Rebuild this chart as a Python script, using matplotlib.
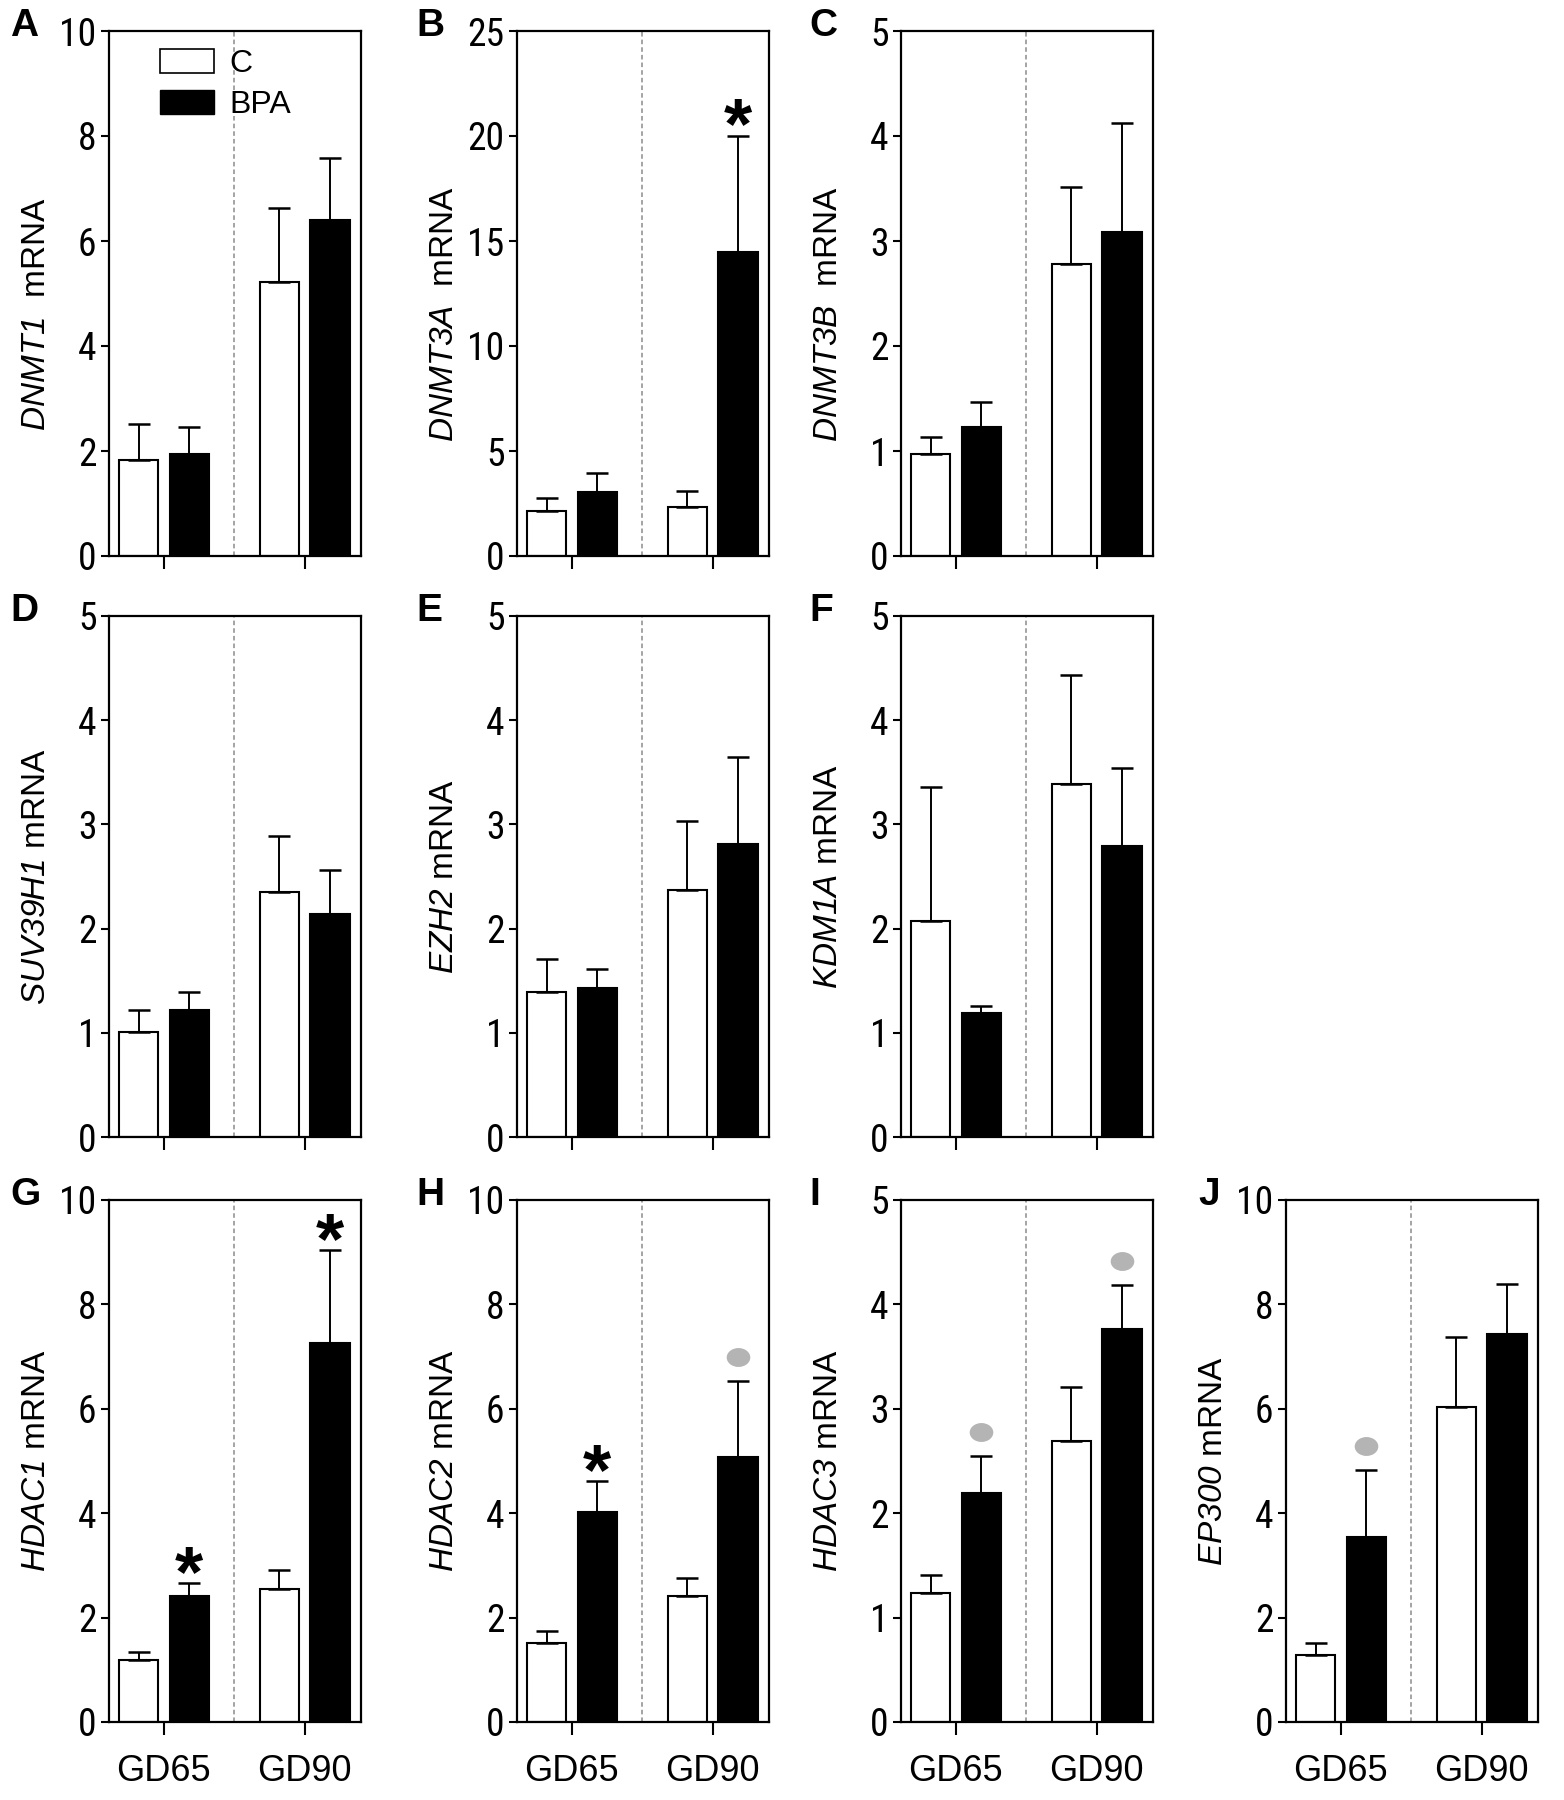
import numpy as np
import matplotlib
matplotlib.use("Agg")
import matplotlib.pyplot as plt
from matplotlib.patches import Patch
from matplotlib.path import Path
from matplotlib.transforms import Affine2D
from matplotlib import font_manager as fm

# data (mean and SEM, relative mRNA)
groups = ["GD65", "GD90"]
letters = ["A", "B", "C", "D", "E", "F", "G", "H", "I", "J"]
genes = ["DNMT1", "DNMT3A", "DNMT3B", "SUV39H1", "EZH2", "KDM1A",
         "HDAC1", "HDAC2", "HDAC3", "EP300"]
ymax = [10, 25, 5, 5, 5, 5, 10, 10, 5, 10]
ystep = [2, 5, 1, 1, 1, 1, 2, 2, 1, 2]

ctrl_mean = [[1.83, 5.22], [2.14, 2.33], [0.97, 2.78], [1.01, 2.35], [1.39, 2.37],
             [2.07, 3.39], [1.19, 2.55], [1.51, 2.42], [1.24, 2.69], [1.29, 6.04]]
ctrl_sem = [[0.69, 1.40], [0.61, 0.75], [0.16, 0.73], [0.21, 0.54], [0.32, 0.66],
            [1.29, 1.04], [0.16, 0.36], [0.23, 0.34], [0.17, 0.52], [0.22, 1.34]]
bpa_mean = [[1.95, 6.40], [3.06, 14.5], [1.23, 3.09], [1.22, 2.14], [1.43, 2.81],
            [1.19, 2.79], [2.41, 7.26], [4.02, 5.07], [2.19, 3.76], [3.54, 7.44]]
bpa_sem = [[0.50, 1.18], [0.88, 5.5], [0.24, 1.03], [0.17, 0.42], [0.18, 0.84],
           [0.07, 0.75], [0.25, 1.78], [0.59, 1.47], [0.36, 0.43], [1.28, 0.96]]

# significance marks on the BPA bars: (gene, group index)
star_marks = [("DNMT3A", 1), ("HDAC1", 0), ("HDAC1", 1), ("HDAC2", 0)]
dot_marks = [("HDAC2", 1), ("HDAC3", 0), ("HDAC3", 1), ("EP300", 0)]


# look for a narrow sans for the tick numbers (Arial Narrow look)
def find_narrow():
    prefs = ["liberationsansnarrow-regular", "arialn", "robotocondensed-regular",
             "dejavusanscondensed.ttf", "opensans_condensed", "opensanscondensed",
             "notosans-condensed", "condensed-regular", "narrow"]
    files = [f.fname for f in fm.fontManager.ttflist]
    for p in prefs:
        for fn in files:
            base = fn.lower().replace(" ", "").split("/")[-1]
            if p in base and "bold" not in base and "italic" not in base and "oblique" not in base:
                return fm.FontProperties(fname=fn), True
    return fm.FontProperties(family="Liberation Sans"), False


tick_fp, is_narrow = find_narrow()
tick_size = 27 if is_narrow else 23

plt.rcParams["font.family"] = ["Liberation Sans", "DejaVu Sans"]
plt.rcParams["mathtext.fontset"] = "custom"
plt.rcParams["mathtext.rm"] = "Liberation Sans:italic"
plt.rcParams["mathtext.it"] = "Liberation Sans:italic"

W, H = 1564, 1800
fig = plt.figure(figsize=(W / 100, H / 100), dpi=100)

col_left = [109, 517, 901, 1286]
letter_dx = [-99, -101, -92, -88]
row_top = [31, 616, 1200]
row_bot = [556, 1137, 1722]
ax_w = 252
layout = [(0, 0), (0, 1), (0, 2), (1, 0), (1, 1), (1, 2), (2, 0), (2, 1), (2, 2), (2, 3)]

bw = 0.28
off = 0.18
ellipse = Path.unit_circle().transformed(Affine2D().scale(1.25, 1.0))

for i, gene in enumerate(genes):
    r, c = layout[i]
    left, top, bot = col_left[c], row_top[r], row_bot[r]
    ax = fig.add_axes([left / W, 1 - bot / H, ax_w / W, (bot - top) / H])
    x = np.arange(len(groups))

    ax.bar(x - off, ctrl_mean[i], width=bw, color="white", edgecolor="black",
           linewidth=1.5, zorder=2)
    ax.bar(x + off, bpa_mean[i], width=bw, color="black", edgecolor="black",
           linewidth=1.5, zorder=2)
    ax.errorbar(x - off, ctrl_mean[i], yerr=[np.zeros(2), ctrl_sem[i]], fmt="none",
                ecolor="black", elinewidth=1.4, capsize=8, capthick=1.8, zorder=3)
    ax.errorbar(x + off, bpa_mean[i], yerr=[np.zeros(2), bpa_sem[i]], fmt="none",
                ecolor="black", elinewidth=1.4, capsize=8, capthick=1.8, zorder=3)
    ax.axvline(0.5, color="#8c8c8c", lw=1.1, ls=(0, (3, 2)), zorder=1)

    for g, k in star_marks:
        if g == gene:
            ytop = bpa_mean[i][k] + bpa_sem[i][k]
            ax.annotate("*", (k + off, ytop), xytext=(0, -9), textcoords="offset points",
                        ha="center", va="baseline", fontsize=52, fontweight="bold",
                        annotation_clip=False)
    for g, k in dot_marks:
        if g == gene:
            ytop = bpa_mean[i][k] + bpa_sem[i][k]
            ax.plot([k + off], [ytop], marker=ellipse, ms=17, color="#b4b4b4", mec="none",
                    transform=ax.transData + Affine2D().translate(0, 24), clip_on=False)

    ax.set_xlim(-0.39, 1.40)
    ax.set_ylim(0, ymax[i])
    yt = np.arange(0, ymax[i] + ystep[i] / 2, ystep[i])
    ax.set_yticks(yt, labels=[f"{v:g}" for v in yt], fontproperties=tick_fp)
    for lbl in ax.get_yticklabels():
        lbl.set_fontsize(tick_size)
    ax.set_xticks(x)
    if r == 2:
        ax.set_xticklabels(groups, fontsize=26)
    else:
        ax.set_xticklabels([])
    ax.tick_params(axis="y", direction="out", length=6, width=1.5, pad=3)
    ax.tick_params(axis="x", direction="out", length=9, width=1.5, pad=14)
    for sp in ax.spines.values():
        sp.set_linewidth(1.6)

    sep = "  " if r == 0 else " "
    ax.set_ylabel(r"$\mathrm{" + gene + "}$" + sep + "mRNA", fontsize=24)
    ax.yaxis.set_label_coords(-0.226, 0.46 if r == 0 else 0.5)

    fig.text((left + letter_dx[c]) / W, 1 - (top - 5) / H, letters[i],
             fontsize=28, fontweight="bold", ha="left", va="center")

    if i == 0:
        handles = [Patch(facecolor="white", edgecolor="black", linewidth=1.2),
                   Patch(facecolor="black", edgecolor="black")]
        ax.legend(handles, ["C", "BPA"], loc="upper left", bbox_to_anchor=(0.15, 0.99),
                  frameon=False, fontsize=23, handlelength=1.7, handleheight=0.75,
                  handletextpad=0.5, labelspacing=0.35, borderaxespad=0)

fig.savefig("out.png", dpi=100)
